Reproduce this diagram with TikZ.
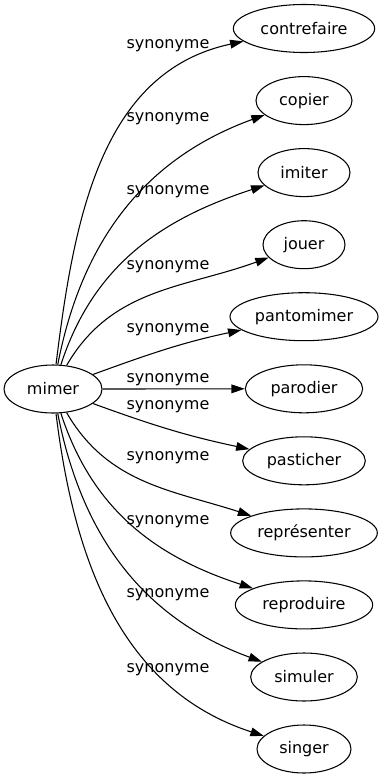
\documentclass[tikz,border=0pt]{standalone}
\usepackage{fontspec}
\setmainfont{DejaVu Sans}
\usetikzlibrary{shapes.geometric,arrows.meta}
\tikzset{
  word/.style={ellipse, draw, line width=0.8pt, minimum height=36pt, inner sep=1pt,
    font=\fontsize{12}{14}\selectfont},
  syn/.style={-{Triangle[length=10pt,width=6.5pt]}, line width=0.8pt},
  lbl/.style={inner sep=0pt, font=\fontsize{12}{14}\selectfont},
}
\begin{document}
\begin{tikzpicture}[x=0.75pt,y=-0.75pt]
    \useasboundingbox (0,0) rectangle (386,779);
    \node[word, minimum width=73.5pt] (mimer) at (53,389) {mimer};
    % name/text/y/width/out/in/label y
    \foreach \n/\t/\yy/\w/\o/\a/\ly in {
        contrefaire/contrefaire/28.5/106/83/192/46,
        copier/copier/100.6/72/79/200/119,
        imiter/imiter/172.6/69/72/198/192,
        jouer/jouer/244.7/61.5/60/200/267,
        pantomimer/pantomimer/316.7/111/20/192/330,
        parodier/parodier/388.8/88/0/180/380,
        pasticher/pasticher/460.8/92/-20/168/407,
        representer/représenter/532.9/110/-60/162/458,
        reproduire/reproduire/604.9/103/-72/162/522,
        simuler/simuler/677/80/-79/160/595,
        singer/singer/749/70.5/-83/162/670} {
        \node[word, minimum width=\w pt] (\n) at (304,\yy) {\t};
        \draw[syn] (mimer) to[out=\o,in=\a] (\n);
        \node[lbl] (l\n) at (168,\ly) {synonyme};
    }
\end{tikzpicture}
\end{document}
